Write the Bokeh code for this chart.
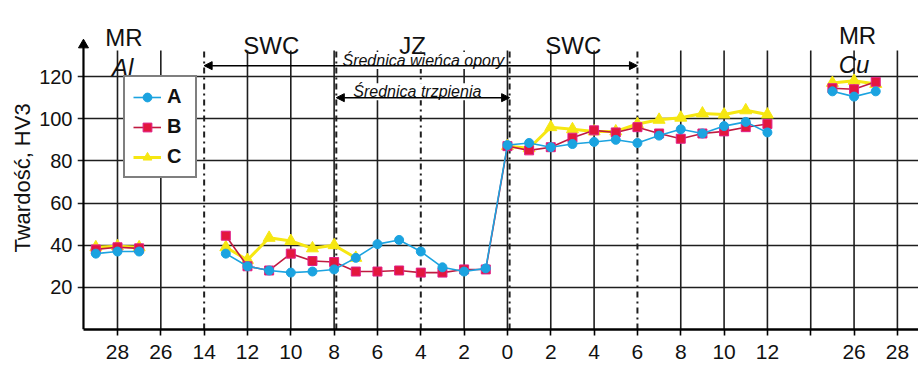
import math
from bokeh.plotting import figure
from bokeh.models import FixedTicker, Range1d, Arrow, NormalHead, Title
from bokeh.core.properties import value
from bokeh.embed import file_html
from bokeh.resources import INLINE

# ---------------- data ----------------
# broken x axis: tick labels (distance, mm) at equally spaced axis positions 0..18
tick_labels = ["28", "26", "14", "12", "10", "8", "6", "4", "2", "0",
               "2", "4", "6", "8", "10", "12", "", "26", "28"]
zone_bounds = [2, 5, 7, 9, 12]          # dash-dot zone borders (axis positions)
y_ticks = [20, 40, 60, 80, 100, 120]

# measurement distances (mm); negative = left side
dist_al = [-29, -28, -27]
dist_joint = [-13, -12, -11, -10, -9, -8, -7, -6, -5, -4, -3, -2, -1,
              0, 1, 2, 3, 4, 5, 6, 7, 8, 9, 10, 11, 12]
dist_cu = [25, 26, 27]
# axis offset of each segment (axis position = offset + distance / 2)
off_al, off_joint, off_cu = 14, 9, 4

nan = float("nan")
A_al = [36, 37, 37]
A_joint = [36, 30, 28, 27, 27.5, 28.5, 34, 40.5, 42.5, 37, 29.5, 27.5, 29,
           87.5, 88.5, 86.5, 88, 89, 90, 88.5, 92, 95, 93, 96.5, 98.5, 93.5]
A_cu = [113, 110.5, 113]

B_al = [38, 39, 38.5]
B_joint = [44.5, 30, 28, 36, 32.5, 32, 27.5, 27.5, 28, 27, 27, 28.5, 28.5,
           87, 85, 86.5, 91, 94.5, 93.5, 96, 93, 90.5, 93, 94, 96, 97.5]
B_cu = [114.5, 114, 117.5]

C_al = [39, 39.5, 39]
C_joint = [39, 33, 43.5, 42, 38.5, 40, 34, nan, nan, nan, nan, nan, nan,
           87, 86, 96, 95, 94, 94, 97.5, 99.5, 100.5, 102.5, 102, 104, 102]
C_cu = [117, 118, 116.5]

FONT = "Liberation Sans"


def pos(dists, off):
    return [off + d / 2 for d in dists]


xs = pos(dist_al, off_al) + [nan] + pos(dist_joint, off_joint) + [nan] + pos(dist_cu, off_cu)


def ys(a, j, c):
    return list(a) + [nan] + list(j) + [nan] + list(c)


X0 = -0.785   # axis position where the y axis is drawn
p = figure(width=918, height=368, output_backend="svg", toolbar_location=None,
           x_range=Range1d(-0.923, 18.487), y_range=Range1d(0, 156.1),
           min_border_left=77, min_border_right=0, min_border_top=0,
           min_border_bottom=39, background_fill_color="white",
           border_fill_color="white")
p.outline_line_color = None

GRID = "#1e1e1e"
# grid
p.xgrid.visible = False
p.ygrid.grid_line_color = GRID
p.ygrid.grid_line_width = 1.6
p.ygrid.ticker = FixedTicker(ticks=y_ticks)

n = len(tick_labels)
vx = [i for i in range(n) if i not in (2, 7, 12)]
p.segment(x0=vx, y0=[0] * len(vx), x1=vx, y1=[132.4] * len(vx),
          line_color=GRID, line_width=1.6)
bx = [b + (0.05 if b in (5, 9) else 0) for b in zone_bounds]
p.segment(x0=bx, y0=[0] * len(bx), x1=bx, y1=[132.4] * len(bx),
          line_color=GRID, line_width=2, line_dash="6 4 2 4")

# x axis
p.xaxis.ticker = FixedTicker(ticks=list(range(n)))
p.xaxis.bounds = (X0, 18.487)
p.xaxis.major_label_overrides = {i: t for i, t in enumerate(tick_labels)}
p.xaxis.minor_tick_line_color = None
p.xaxis.major_tick_in = 0
p.xaxis.major_tick_out = 6
p.xaxis.major_tick_line_width = 1.6
p.xaxis.axis_line_width = 2.6
p.xaxis.major_label_text_font = FONT
p.xaxis.major_label_text_font_size = "21px"
p.xaxis.major_label_text_color = "#111"
p.xaxis.major_label_standoff = 9

# y axis: labels only; line + arrow drawn inside the frame
p.yaxis.ticker = FixedTicker(ticks=y_ticks)
p.yaxis.axis_line_color = None
p.yaxis.major_tick_line_color = None
p.yaxis.minor_tick_line_color = None
p.yaxis.major_tick_in = 0
p.yaxis.major_tick_out = 0
p.yaxis.major_label_text_font = FONT
p.yaxis.major_label_text_font_size = "20px"
p.yaxis.major_label_text_color = "#111"
p.yaxis.major_label_standoff = 5

p.add_layout(Title(text="Twardość, HV3", align="left", offset=77, standoff=4,
                   text_font=FONT, text_font_size="22px", text_font_style="normal",
                   text_color="#111"), "left")

p.segment(x0=[X0], y0=[0], x1=[X0], y1=[135], line_color="black", line_width=2.2)
p.scatter(x=[X0], y=[135], marker="triangle", size=10, fill_color="black",
          line_color="black")

# texts
def txt(x, y, s, size, style="normal", bg=None):
    kw = {}
    if bg:
        kw = dict(background_fill_color=bg, padding=0)
    p.text(x=[x], y=[y], text=[s], text_font=value(FONT), text_font_size=size,
           text_font_style=style, text_align="center", text_baseline="alphabetic",
           text_color="#111", **kw)

txt(7.06, 127.6, "Średnica wieńca opory", "16px", "italic", bg="white")
txt(6.92, 112.8, "Średnica trzpienia", "16px", "italic", bg="white")
txt(0.15, 138.5, "MR", "24px")
txt(0.12, 124.5, "Al", "24px", "italic")
txt(3.55, 134.7, "SWC", "24px")
txt(6.81, 134.7, "JZ", "24px")
txt(10.52, 134.7, "SWC", "24px")
txt(17.08, 139.5, "MR", "24px")
txt(17.0, 125.5, "Cu", "24px", "italic")

# dimension arrows
p.add_layout(Arrow(x_start=2, y_start=125.2, x_end=12, y_end=125.2, line_width=1.5,
                   start=NormalHead(size=8, fill_color="black"),
                   end=NormalHead(size=8, fill_color="black")))
p.add_layout(Arrow(x_start=5.05, y_start=110, x_end=9.05, y_end=110, line_width=1.5,
                   start=NormalHead(size=8, fill_color="black"),
                   end=NormalHead(size=8, fill_color="black")))

# series
BLUE = "#1ba3e0"
RED = "#e3173e"
REDLINE = "#c01a40"
YEL = "#f6e712"

p.line(xs, ys(C_al, C_joint, C_cu), line_color=YEL, line_width=3, legend_label="C")
p.scatter(xs, ys(C_al, C_joint, C_cu), marker="triangle", size=12, fill_color=YEL,
          line_color=YEL, legend_label="C")
p.line(xs, ys(B_al, B_joint, B_cu), line_color=REDLINE, line_width=1.6, legend_label="B")
p.scatter(xs, ys(B_al, B_joint, B_cu), marker="square", size=9, fill_color=RED,
          line_color="#e0208a", line_width=1, legend_label="B")
p.line(xs, ys(A_al, A_joint, A_cu), line_color=BLUE, line_width=1.6, legend_label="A")
p.scatter(xs, ys(A_al, A_joint, A_cu), marker="circle", size=9, fill_color=BLUE,
          line_color=BLUE, legend_label="A")

leg = p.legend[0]
leg.items = list(reversed(leg.items))
leg.location = (46, 151)
leg.border_line_color = "black"
leg.border_line_width = 2.5
leg.background_fill_color = "white"
leg.background_fill_alpha = 1
leg.label_text_font = FONT
leg.label_text_font_style = "bold"
leg.label_text_font_size = "20px"
leg.label_text_color = "#111"
leg.glyph_width = 28
leg.glyph_height = 22
leg.label_height = 22
leg.spacing = 7
leg.padding = 8
leg.margin = 0
leg.label_standoff = 6

open("out.html", "w").write(file_html(p, INLINE))
